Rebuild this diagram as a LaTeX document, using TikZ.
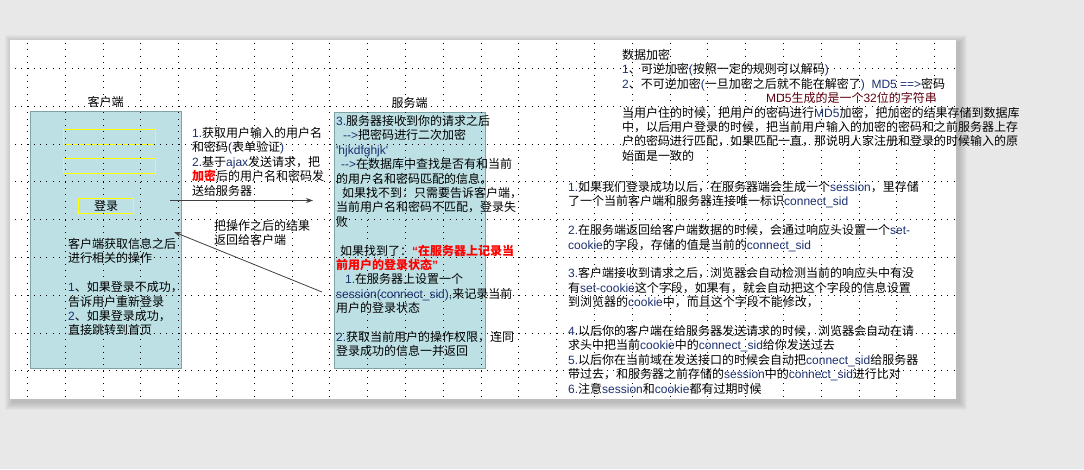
\documentclass[tikz,border=0pt]{standalone}
\usepackage{fontspec}
\usetikzlibrary{arrows.meta,positioning}
\newfontfamily\latinfamily{Liberation Sans}
\newfontfamily\cjkfamily{Noto Sans CJK SC}
% switch to the CJK face for ideographs and full-width punctuation
\XeTeXinterchartokenstate=1
\newXeTeXintercharclass\cjkclass
\newcount\cjkchar
\cjkchar="21
\loop \XeTeXcharclass\cjkchar=0 \ifnum\cjkchar<"7E \advance\cjkchar by 1 \repeat
\cjkchar="3000
\loop \XeTeXcharclass\cjkchar=\cjkclass \ifnum\cjkchar<"9FFF \advance\cjkchar by 1 \repeat
\cjkchar="FF00
\loop \XeTeXcharclass\cjkchar=\cjkclass \ifnum\cjkchar<"FFEF \advance\cjkchar by 1 \repeat
\XeTeXcharclass"201C=0 \XeTeXcharclass"201D=0
\XeTeXinterchartoks 0 \cjkclass = {\cjkfamily}
\XeTeXinterchartoks 4095 \cjkclass = {\cjkfamily}
\XeTeXinterchartoks \cjkclass 0 = {\latinfamily}
\XeTeXinterchartoks \cjkclass 4095 = {\latinfamily}
\definecolor{pagegray}{RGB}{232,232,232}
\definecolor{boxfill}{RGB}{189,224,228}
\definecolor{boxline}{RGB}{128,164,166}
\definecolor{fieldline}{RGB}{255,255,0}
\definecolor{latin}{RGB}{28,48,112}
\definecolor{maroon}{RGB}{96,0,16}
\newcommand{\en}[1]{\textcolor{latin}{#1}}
\newcommand{\hot}[1]{\textcolor{red}{\bfseries #1}}

\begin{document}
\begin{tikzpicture}[x=1pt,y=-1pt,
  font=\latinfamily\fontsize{12}{14.4}\selectfont,
  side box/.style={draw=boxline,fill=boxfill,line width=1pt,minimum width=151pt,
    minimum height=257pt,inner sep=0pt,anchor=north west},
  input field/.style={draw=fieldline,line width=1pt,minimum width=92pt,minimum height=15pt,inner sep=0pt},
  box label/.style={inner sep=0pt},
  text note/.style={align=left,inner sep=0pt,anchor=base west},
  flow arrow/.style={-{Stealth[length=7pt,width=5pt]},draw=black!75,line width=0.8pt},
  grid dots/.style={line width=1pt,dash pattern=on 1pt off 5.3pt}]

  \useasboundingbox (0,0) rectangle (1084,469);
  \fill[pagegray] (0,0) rectangle (1084,469);
  % sheet with soft shadow
  \foreach \s in {1,...,8}
    \fill[black,opacity=0.025] (13-\s,43-\s) rectangle (959+\s,402+\s);
  \fill[white] (10,40) rectangle (956,399);

  % client and server
  \node[side box] (client) at (29.5,110.5) {};
  \node[side box,minimum height=256pt] (server) at (333.5,111.5) {};
  \node[box label,above=3pt of client] (client label) {客户端};
  \node[box label,above=3pt of server] (server label) {服务端};

  \node[input field] (user field) at (109.5,137) {};
  \node[input field] (pass field) at (109.5,166) {};
  \node[input field,minimum width=55pt] (login) at (106,206) {登录};

  % dotted grid
  \begin{scope}
    \clip (10,40) rectangle (956,399);
    \foreach \gx in {0,...,24}
      \draw[grid dots] (27.5+37.8*\gx,30.5) -- ++(0,378);
    \foreach \gy in {1,...,9}
      \draw[grid dots] (-10.3,30.7+37.8*\gy) -- ++(983,0);
  \end{scope}

  % requests and replies
  \coordinate (req start) at (170,200.5);
  \coordinate (req end) at (313,200.5);
  \coordinate (res start) at (322,292);
  \coordinate (res end) at (174,232);
  \draw[flow arrow] (req start) -- (req end);
  \draw[flow arrow] (res start) -- (res end);

  % notes are placed by the baseline of their last line
  \node[text note] (req note) at (192,195.1) {\en{1.}获取用户输入的用户名\\
    和密码\en{(}表单验证\en{)}\\
    \en{2.}基于\en{ajax}发送请求，把\\
    \hot{加密}后的用户名和密码发\\
    送给服务器};
  \node[text note] (res note) at (214,244.9) {把操作之后的结果\\返回给客户端};

  \node[text note] (client note) at (68,334.9) {客户端获取信息之后\\
    进行相关的操作\\
    ~\\
    \en{1}、如果登录不成功，\\
    告诉用户重新登录\\
    \en{2}、如果登录成功，\\
    直接跳转到首页};

  \node[text note] (server note) at (336,355.9) {\en{3.}服务器接收到你的请求之后\\
    \hspace*{7pt}\en{-{}->}把密码进行二次加密\\
    \en{'hjkdfghjk'}\\
    \hspace*{5pt}\en{-{}->}在数据库中查找是否有和当前\\
    的用户名和密码匹配的信息，\\
    \hspace*{6pt}如果找不到：只需要告诉客户端，\\
    当前用户名和密码不匹配，登录失\\
    败\\
    ~\\
    \hspace*{4pt}如果找到了：\hot{“在服务器上记录当}\\
    \hot{前用户的登录状态”}\\
    \hspace*{9pt}\en{1.}在服务器上设置一个\\
    \en{session(connect\_sid),}来记录当前\\
    用户的登录状态\\
    ~\\
    \en{2.}获取当前用户的操作权限，连同\\
    登录成功的信息一并返回};

  % encryption notes
  \node[text note] (crypt note) at (622,160.3) {数据加密\\
    \en{1}、可逆加密\en{(}按照一定的规则可以解码\en{)}\\
    \en{2}、不可逆加密\en{(}一旦加密之后就不能在解密了\en{)\ \ MD5 ==>}密码\\
    \hspace*{144pt}\textcolor{maroon}{MD5生成的是一个32位的字符串}\\
    当用户住的时候，把用户的密码进行\en{MD5}加密，把加密的结果存储到数据库\\
    中，以后用户登录的时候，把当前用户输入的加密的密码和之前服务器上存\\
    户的密码进行匹配，如果匹配一直，那说明人家注册和登录的时候输入的原\\
    始面是一致的};

  % session notes
  \node[text note] (session note) at (568,393.1) {\en{1.}如果我们登录成功以后，在服务器端会生成一个\en{session}，里存储\\
    了一个当前客户端和服务器连接唯一标识\en{connect\_sid}\\
    ~\\
    \en{2.}在服务端返回给客户端数据的时候，会通过响应头设置一个\en{set-}\\
    \en{cookie}的字段，存储的值是当前的\en{connect\_sid}\\
    ~\\
    \en{3.}客户端接收到请求之后，浏览器会自动检测当前的响应头中有没\\
    有\en{set-cookie}这个字段，如果有，就会自动把这个字段的信息设置\\
    到浏览器的\en{cookie}中，而且这个字段不能修改，\\
    ~\\
    \en{4.}以后你的客户端在给服务器发送请求的时候，浏览器会自动在请\\
    求头中把当前\en{cookie}中的\en{connect\_sid}给你发送过去\\
    \en{5.}以后你在当前域在发送接口的时候会自动把\en{connect\_sid}给服务器\\
    带过去，和服务器之前存储的\en{session}中的\en{connect\_sid}进行比对\\
    \en{6.}注意\en{session}和\en{cookie}都有过期时候};

\end{tikzpicture}
\end{document}
